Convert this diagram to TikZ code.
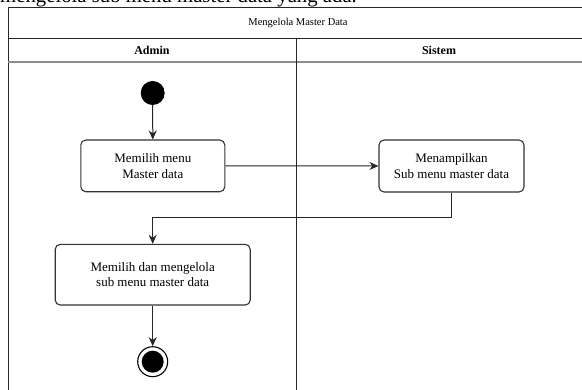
\documentclass[tikz,border=0pt]{standalone}
\usepackage{fontspec}
\setmainfont{Liberation Serif}
\usetikzlibrary{arrows.meta}

\tikzset{
  frameline/.style={draw=black!85, line width=1pt},
  actbox/.style={draw=black!80, line width=1.1pt, rounded corners=5pt, fill=white,
    align=center, font=\fontsize{13}{15.5}\selectfont, inner sep=0pt},
  flow/.style={draw=black!85, line width=1pt, -{Stealth[length=9pt,width=8pt]}},
  lanehead/.style={font=\fontsize{12}{14}\selectfont\bfseries},
}

\begin{document}
\begin{tikzpicture}[x=1pt, y=-1pt]
  \useasboundingbox (0,0) rectangle (582,390);
  \begin{scope}
    \clip (0,0) rectangle (582,390);

    % running text line above the diagram
    \node[anchor=base west, inner sep=0pt, font=\fontsize{20.75}{24}\selectfont]
      (caption) at (0,2.5) {mengelola sub menu master data yang ada.};

    % swimlane frame
    \draw[frameline] (8,395) -- (8,7.5) -- (590,7.5);
    \draw[frameline] (8,38.3) -- (590,38.3);
    \draw[draw=black!45, line width=1.8pt] (8,61.7) -- (590,61.7);
    \draw[frameline] (296.5,38.3) -- (296.5,395);

    \node[font=\fontsize{10.5}{12}\selectfont] (title) at (298,23) {Mengelola Master Data};
    \node[lanehead] (admin) at (152,50) {Admin};
    \node[lanehead] (sistem) at (439,50) {Sistem};

    % activities
    \node[circle, fill=black, minimum size=24pt, inner sep=0pt] (start) at (152.7,93) {};
    \node[actbox, minimum width=144pt, minimum height=51.7pt] (pilih) at (152.8,165.9)
      {Memilih menu\\ Master data};
    \node[actbox, minimum width=145pt, minimum height=52pt] (tampil) at (451.5,166)
      {Menampilkan\\Sub menu master data};
    \node[actbox, minimum width=195pt, minimum height=60.7pt] (kelola) at (152.7,274.7)
      {Memilih dan mengelola\\sub menu master data};
    \node[circle, draw=black, line width=1.1pt, fill=white, minimum size=30pt, inner sep=0pt]
      (finish) at (152.7,361.7) {};
    \fill[black] (finish.center) circle (11pt);

    % control flow
    \coordinate (bend) at (451.5,217.7);
    \draw[flow] (start) -- (pilih);
    \draw[flow] (pilih) -- (tampil);
    \draw[flow] (tampil.south) -- (bend) -- (bend -| kelola.north) -- (kelola.north);
    \draw[flow] (kelola) -- (finish);
  \end{scope}
\end{tikzpicture}
\end{document}
